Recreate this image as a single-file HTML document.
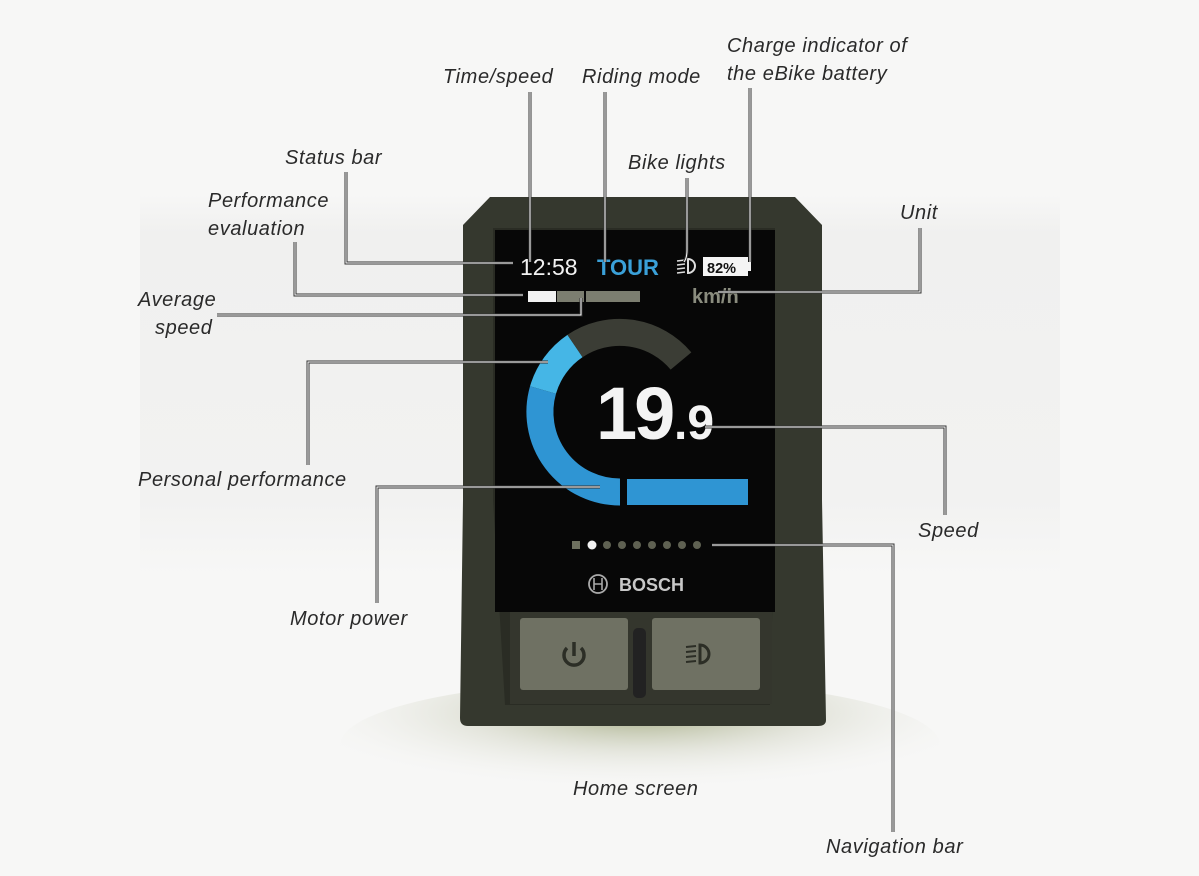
<!DOCTYPE html>
<html><head><meta charset="utf-8">
<style>
html,body{margin:0;padding:0;background:#f7f7f6;}
body{width:1199px;height:876px;position:relative;overflow:hidden;font-family:"Liberation Sans",sans-serif;}
.lbl{position:absolute;font-style:italic;font-size:20px;letter-spacing:0.6px;color:#2a2a2a;white-space:nowrap;line-height:28px;}
</style></head><body>
<svg width="1199" height="876" style="position:absolute;left:0;top:0">
<defs>
<radialGradient id="sh" cx="0.5" cy="0.25" r="0.6">
<stop offset="0" stop-color="#8f9866" stop-opacity="0.8"/>
<stop offset="0.5" stop-color="#c9ccb8" stop-opacity="0.4"/>
<stop offset="1" stop-color="#f7f7f6" stop-opacity="0"/>
</radialGradient>
<linearGradient id="bg" x1="0" y1="0" x2="0" y2="1">
<stop offset="0" stop-color="#f7f7f6"/>
<stop offset="0.1" stop-color="#f0f0ef"/>
<stop offset="0.8" stop-color="#f2f2f1"/>
<stop offset="1" stop-color="#f7f7f6"/>
</linearGradient>
</defs>
<rect x="140" y="195" width="920" height="380" fill="url(#bg)"/>
<ellipse cx="640" cy="745" rx="300" ry="65" fill="url(#sh)"/>
<!-- device -->
<path d="M490,197 L795,197 L822,225 L822,500 L826,720 Q826,726 818,726 L468,726 Q460,726 460,718 L463,500 L463,225 Z" fill="#35382e"/>
<path d="M493,228 L775,228 L775,500 L770,705 L505,705 L493,500 Z" fill="#2a2c24"/>
<rect x="495" y="230" width="280" height="382" fill="#070707"/>
<rect x="510" y="612" width="262" height="92" fill="#34362d"/>
<rect x="520" y="618" width="108" height="72" rx="3" fill="#6f7163"/>
<rect x="652" y="618" width="108" height="72" rx="3" fill="#6f7163"/>
<rect x="633" y="628" width="13" height="70" rx="5" fill="#222"/>
<path d="M567,648 A10,10 0 1 0 581,648" fill="none" stroke="#2c2e26" stroke-width="3.5"/>
<line x1="574" y1="642" x2="574" y2="656" stroke="#2c2e26" stroke-width="3.5"/>
<path d="M700,645 A9,9 0 0 1 700,663 Z" fill="none" stroke="#2c2e26" stroke-width="3"/>
<g stroke="#2c2e26" stroke-width="2"><line x1="686" y1="647" x2="696" y2="646"/><line x1="686" y1="652" x2="696" y2="651"/><line x1="686" y1="657" x2="696" y2="656"/><line x1="686" y1="662" x2="696" y2="661"/></g>
<!-- arc -->
<path d="M620,492 A80,80 0 0 1 543,390" fill="none" stroke="#2f95d3" stroke-width="27"/>
<path d="M543,390 A80,80 0 0 1 575,346" fill="none" stroke="#45b6e6" stroke-width="27"/>
<path d="M575,346 A80,80 0 0 1 681,361" fill="none" stroke="#3b3d35" stroke-width="27"/>
<rect x="627" y="479" width="121" height="26" fill="#2f95d3"/>
<rect x="528" y="291" width="28" height="11" fill="#f2f2f2"/>
<rect x="557" y="291" width="27" height="11" fill="#7c7e70"/>
<rect x="586" y="291" width="54" height="11" fill="#7c7e70"/>
<rect x="703" y="257" width="45" height="19" fill="#f4f4f4"/>
<rect x="748" y="262" width="3" height="9" fill="#f4f4f4"/>
<path d="M688,259 A7,7 0 0 1 688,273 Z" fill="none" stroke="#ddd" stroke-width="2"/>
<g stroke="#ddd" stroke-width="1.5"><line x1="677" y1="261" x2="685" y2="260"/><line x1="677" y1="265" x2="685" y2="264"/><line x1="677" y1="269" x2="685" y2="268"/><line x1="677" y1="273" x2="685" y2="272"/></g>
<rect x="572" y="541" width="8" height="8" fill="#6e705f"/>
<circle cx="592" cy="545" r="4.5" fill="#f2f2f2"/>
<g fill="#5f6152"><circle cx="607" cy="545" r="4"/><circle cx="622" cy="545" r="4"/><circle cx="637" cy="545" r="4"/><circle cx="652" cy="545" r="4"/><circle cx="667" cy="545" r="4"/><circle cx="682" cy="545" r="4"/><circle cx="697" cy="545" r="4"/></g>
<circle cx="598" cy="584" r="9" fill="none" stroke="#aaa" stroke-width="1.8"/>
<path d="M594,578 V590 M602,578 V590 M594,584 H602" stroke="#aaa" stroke-width="1.6" fill="none"/>
<text x="619" y="591" font-family="Liberation Sans" font-weight="bold" font-size="18" fill="#c8c8c8">BOSCH</text>
<text x="520" y="275" font-family="Liberation Sans" font-size="23" fill="#f2f2f2">12:58</text>
<text x="597" y="275" font-family="Liberation Sans" font-weight="bold" font-size="22" fill="#3aa0d8">TOUR</text>
<text x="707" y="273" font-family="Liberation Sans" font-weight="bold" font-size="14.5" fill="#111">82%</text>
<text x="692" y="303" font-family="Liberation Sans" font-weight="bold" font-size="20" fill="#8a8c7e">km/h</text>
<text x="596" y="439" font-family="Liberation Sans" font-weight="bold" font-size="74" fill="#f4f4f4" letter-spacing="-3">19</text>
<text x="674" y="439" font-family="Liberation Sans" font-weight="bold" font-size="48" fill="#f4f4f4">.9</text>
<g fill="none" stroke="#333" stroke-width="3">
<path d="M346,172 V263 H513"/><path d="M530,92 V262"/><path d="M605,92 V262"/>
<path d="M687,178 V250 Q687,258 684,262"/><path d="M750,88 V262"/>
<path d="M920,228 V292 H718"/><path d="M295,242 V295 H523"/>
<path d="M217,315 H581 V298"/><path d="M308,465 V362 H548"/>
<path d="M377,603 V487 H600"/><path d="M945,515 V427 H705"/>
<path d="M893,832 V545 H712"/>
</g>
<g fill="none" stroke="#ffffff" stroke-width="1">
<path d="M346,172 V263 H513"/><path d="M530,92 V262"/><path d="M605,92 V262"/>
<path d="M687,178 V250 Q687,258 684,262"/><path d="M750,88 V262"/>
<path d="M920,228 V292 H718"/><path d="M295,242 V295 H523"/>
<path d="M217,315 H581 V298"/><path d="M308,465 V362 H548"/>
<path d="M377,603 V487 H600"/><path d="M945,515 V427 H705"/>
<path d="M893,832 V545 H712"/>
</g>
</svg>
<div class="lbl" style="left:727px;top:32px">Charge indicator of</div>
<div class="lbl" style="left:727px;top:60px">the eBike battery</div>
<div class="lbl" style="left:443px;top:63px">Time/speed</div>
<div class="lbl" style="left:582px;top:63px">Riding mode</div>
<div class="lbl" style="left:285px;top:144px">Status bar</div>
<div class="lbl" style="left:628px;top:149px">Bike lights</div>
<div class="lbl" style="left:208px;top:187px">Performance</div>
<div class="lbl" style="left:208px;top:215px">evaluation</div>
<div class="lbl" style="left:900px;top:199px">Unit</div>
<div class="lbl" style="left:138px;top:286px">Average</div>
<div class="lbl" style="left:155px;top:314px">speed</div>
<div class="lbl" style="left:138px;top:466px">Personal performance</div>
<div class="lbl" style="left:918px;top:517px">Speed</div>
<div class="lbl" style="left:290px;top:605px">Motor power</div>
<div class="lbl" style="left:573px;top:775px">Home screen</div>
<div class="lbl" style="left:826px;top:833px">Navigation bar</div>
</body></html>
